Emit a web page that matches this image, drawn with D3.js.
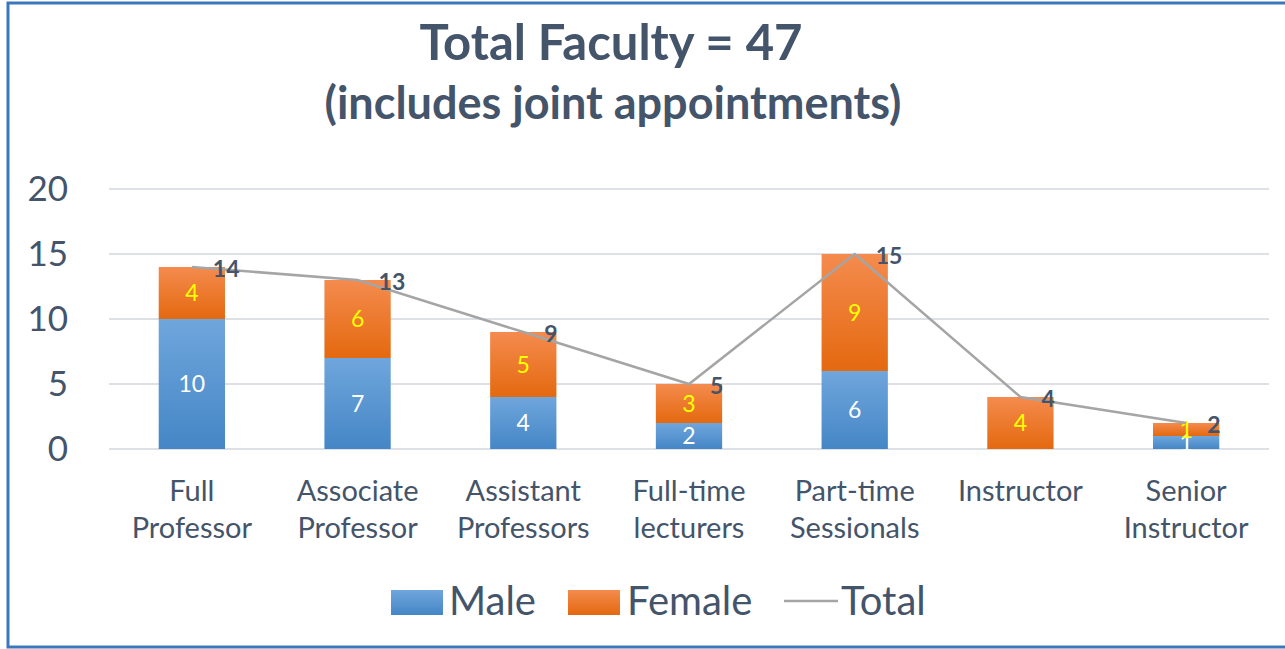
<!DOCTYPE html>
<html lang="en">
<head>
<meta charset="UTF-8">
<title>Total Faculty</title>
<script src="https://d3js.org/d3.v7.min.js"></script>
<style>
    body { margin: 0; background: #fff; }
    svg text { font-family: Lato, "Open Sans", sans-serif; }
</style>
</head>
<body>
<svg id="chart" width="1285" height="649"></svg>
<script>
    const categories = [["Full", "Professor"], ["Associate", "Professor"], ["Assistant", "Professors"],
        ["Full-time", "lecturers"], ["Part-time", "Sessionals"], ["Instructor"], ["Senior", "Instructor"]];
    const male = [10, 7, 4, 2, 6, 0, 1];
    const female = [4, 6, 5, 3, 9, 4, 1];
    const total = [14, 13, 9, 5, 15, 4, 2];
    const yTicks = [0, 5, 10, 15, 20];

    const textColor = "#44546a";
    const svg = d3.select("#chart");

    const defs = svg.append("defs");
    function grad(id, top, bottom) {
        const g = defs.append("linearGradient").attr("id", id)
            .attr("x1", 0).attr("y1", 0).attr("x2", 0).attr("y2", 1);
        g.append("stop").attr("offset", "0%").attr("stop-color", top);
        g.append("stop").attr("offset", "100%").attr("stop-color", bottom);
    }
    grad("gMale", "#6fa6dc", "#4586c6");
    grad("gFemale", "#f48b4e", "#e4690f");

    // frame
    svg.append("rect").attr("x", 8).attr("y", 3).attr("width", 1300).attr("height", 644)
        .attr("fill", "none").attr("stroke", "#3a78be").attr("stroke-width", 3);

    // titles
    svg.append("text").attr("x", 611).attr("y", 60).attr("text-anchor", "middle")
        .attr("font-size", 49).attr("font-weight", "bold").attr("fill", textColor)
        .text("Total Faculty = 47");
    svg.append("text").attr("x", 613).attr("y", 119).attr("text-anchor", "middle")
        .attr("font-size", 45).attr("font-weight", "bold").attr("fill", textColor)
        .text("(includes joint appointments)");

    const x = d3.scaleBand().domain(d3.range(categories.length)).range([109, 1269]).paddingInner(0.6).paddingOuter(0.3);
    const y = d3.scaleLinear().domain([0, 20]).range([449, 189]);
    const cx = i => x(i) + x.bandwidth() / 2;

    // gridlines
    svg.append("g").selectAll("line").data(yTicks).join("line")
        .attr("x1", 109).attr("x2", 1269)
        .attr("y1", d => y(d)).attr("y2", d => y(d))
        .attr("stroke", "#dde1e6").attr("stroke-width", 2);

    // y labels
    svg.append("g").selectAll("text").data(yTicks).join("text")
        .attr("x", 68).attr("y", d => y(d) + 12).attr("text-anchor", "end")
        .attr("font-size", 35).attr("fill", textColor).text(d => d);

    // bars
    svg.append("g").selectAll("rect").data(male).join("rect")
        .attr("x", (d, i) => x(i)).attr("width", x.bandwidth())
        .attr("y", d => y(d)).attr("height", d => y(0) - y(d))
        .attr("fill", "url(#gMale)");
    svg.append("g").selectAll("rect").data(female).join("rect")
        .attr("x", (d, i) => x(i)).attr("width", x.bandwidth())
        .attr("y", (d, i) => y(male[i] + d)).attr("height", d => y(0) - y(d))
        .attr("fill", "url(#gFemale)");

    // segment labels
    const maleLabels = male.map((v, i) => ({ v, i })).filter(d => d.v > 0);
    svg.append("g").selectAll("text").data(maleLabels).join("text")
        .attr("x", d => cx(d.i))
        .attr("y", d => (y(0) + y(d.v)) / 2 + 8)
        .attr("text-anchor", "middle").attr("font-size", 23).attr("fill", "#fff")
        .text(d => d.v);
    svg.append("g").selectAll("text").data(female).join("text")
        .attr("x", (d, i) => cx(i))
        .attr("y", (d, i) => (y(male[i]) + y(male[i] + d)) / 2 + 8)
        .attr("text-anchor", "middle").attr("font-size", 23).attr("fill", "#ffff00")
        .text(d => d);

    // total line
    const line = d3.line().x((d, i) => cx(i)).y(d => y(d));
    svg.append("path").datum(total).attr("d", line)
        .attr("fill", "none").attr("stroke", "#a5a5a5").attr("stroke-width", 2.5);
    svg.append("g").selectAll("text").data(total).join("text")
        .attr("x", (d, i) => cx(i) + 21).attr("y", d => y(d) + 10)
        .attr("font-size", 23).attr("font-weight", "bold").attr("fill", textColor)
        .text(d => d);

    // x labels
    const xl = svg.append("g").selectAll("text").data(categories).join("text")
        .attr("x", (d, i) => cx(i)).attr("y", 501).attr("text-anchor", "middle")
        .attr("font-size", 29).attr("fill", textColor);
    xl.selectAll("tspan").data(d => d).join("tspan")
        .attr("x", function () { return this.parentNode.getAttribute("x"); })
        .attr("dy", (d, i) => i === 0 ? 0 : 37).text(d => d);

    // legend
    const legend = svg.append("g");
    legend.append("rect").attr("x", 391).attr("y", 590).attr("width", 52).attr("height", 25).attr("fill", "url(#gMale)");
    legend.append("text").attr("x", 449).attr("y", 615).attr("font-size", 40).attr("fill", textColor).text("Male");
    legend.append("rect").attr("x", 568).attr("y", 590).attr("width", 52).attr("height", 25).attr("fill", "url(#gFemale)");
    legend.append("text").attr("x", 627).attr("y", 615).attr("font-size", 40).attr("fill", textColor).text("Female");
    legend.append("line").attr("x1", 784).attr("x2", 838).attr("y1", 601).attr("y2", 601)
        .attr("stroke", "#a5a5a5").attr("stroke-width", 2.5);
    legend.append("text").attr("x", 841).attr("y", 615).attr("font-size", 40).attr("fill", textColor).text("Total");
</script>
</body>
</html>
